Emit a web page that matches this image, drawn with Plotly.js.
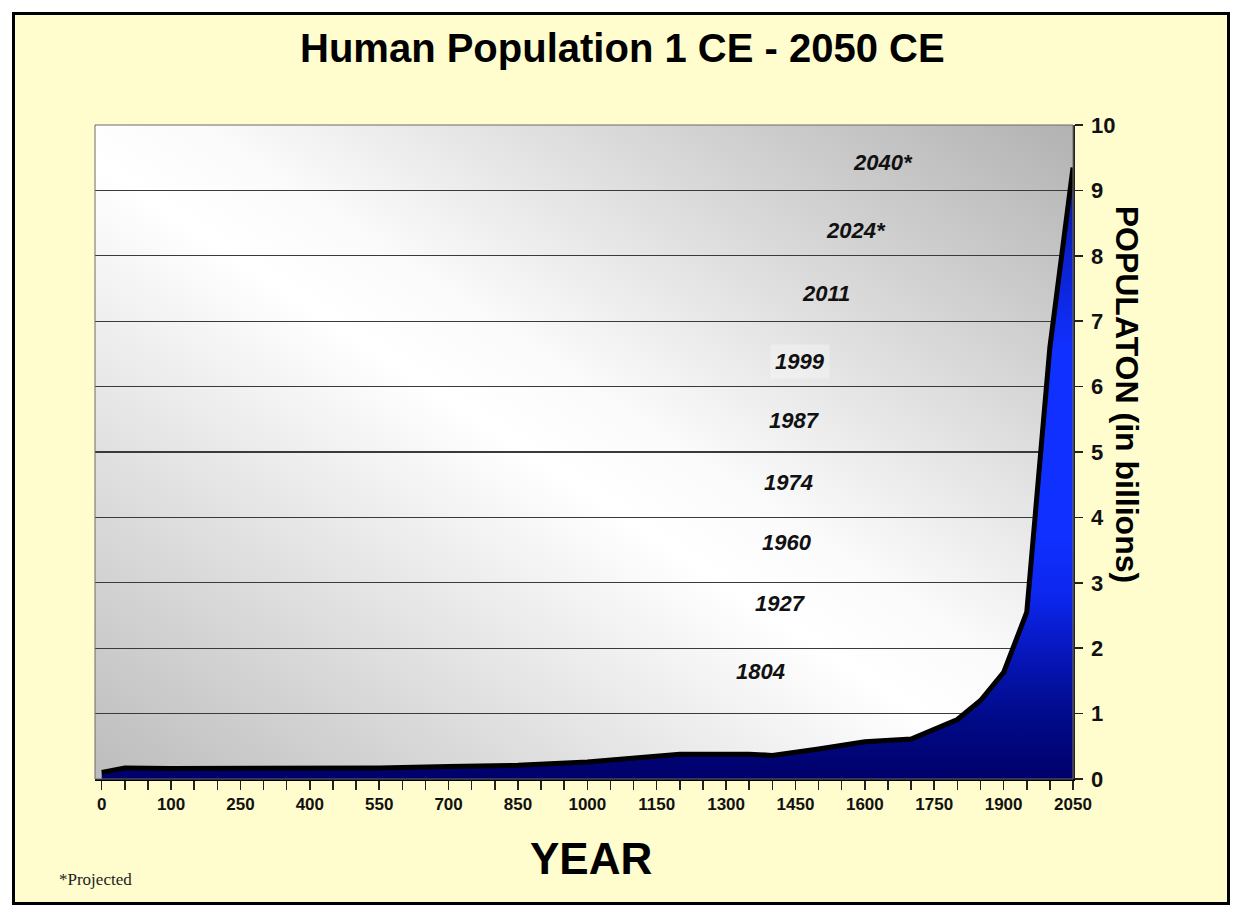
<!DOCTYPE html>
<html>
<head>
<meta charset="utf-8">
<script src="https://cdn.plot.ly/plotly-3.0.1.min.js"></script>
<style>
  html, body { margin: 0; padding: 0; background: #ffffff; }
  #frame { position: absolute; left: 12px; top: 12px; width: 1218px; height: 893px;
           border: 3px solid #000; box-sizing: border-box; background: #FFFCCD; }
  #chart { width: 1212px; height: 887px; }
</style>
</head>
<body>
<div id="frame"><div id="chart"></div></div>
<script>
// ---- axis slots (category positions along the year axis) ----
const slotYears = ['0','1','50','100','150','200','250','300','350','400','450','500','550','600','650',
  '700','750','800','850','900','950','1000','1050','1100','1150','1200','1250','1300','1350','1400',
  '1450','1500','1550','1600','1650','1700','1750','1800','1850','1900','1950','2000','2050'];
const tickLabels = ['0','100','250','400','550','700','850','1000','1150','1300','1450','1600','1750','1900','2050'];

// ---- population series (billions) ----
const years = ['0','1','100','250','400','550','700','850','1000','1100','1200','1350','1400','1500',
  '1600','1700','1800','1850','1900','1950','2000','2050'];
const population = [0.10,0.17,0.16,0.16,0.17,0.17,0.19,0.21,0.26,0.32,0.38,0.38,0.36,0.46,
  0.57,0.61,0.91,1.20,1.63,2.55,6.60,9.35];

// ---- milestone labels (year each billion was / will be reached) ----
const milestoneLabels = ['1804','1927','1960','1974','1987','1999','2011','2024*','2040*'];
const milestoneY = [1.64,2.69,3.61,4.53,5.48,6.38,7.43,8.39,9.42];
const milestoneXPaper = [0.680,0.701,0.708,0.709,0.715,0.721,0.747,0.778,0.806];

const FONT = 'Liberation Sans, Arial, Helvetica, sans-serif';

const bgSvg = '<svg xmlns="http://www.w3.org/2000/svg" width="100" height="100" viewBox="0 0 100 100" preserveAspectRatio="none">' +
  '<defs><linearGradient id="g" x1="0" y1="1" x2="1" y2="0">' +
  '<stop offset="0" stop-color="#bcbcbc"/><stop offset="0.47" stop-color="#ffffff"/>' +
  '<stop offset="0.55" stop-color="#fbfbfb"/><stop offset="1" stop-color="#b2b2b2"/>' +
  '</linearGradient></defs><rect x="0" y="0" width="100" height="100" fill="url(#g)"/></svg>';
const bgUri = 'data:image/svg+xml;charset=utf-8,' + encodeURIComponent(bgSvg);

const trace = {
  type: 'scatter',
  mode: 'lines',
  x: years,
  y: population,
  line: { color: '#000000', width: 5 },
  fill: 'tozeroy',
  fillgradient: {
    type: 'vertical',
    start: 0,
    stop: 9.35,
    colorscale: [
      [0, '#00006a'], [0.1, '#010a88'], [0.2, '#0616b8'], [0.3, '#0c26ee'],
      [0.4, '#1030ff'], [0.7, '#1030ff'], [0.85, '#0b22d0'], [1, '#08169a']
    ]
  },
  hoverinfo: 'x+y'
};

const annotations = [];
for (let i = 0; i < milestoneLabels.length; i++) {
  annotations.push({
    xref: 'paper', yref: 'y', x: milestoneXPaper[i], y: milestoneY[i],
    text: milestoneLabels[i], showarrow: false, xanchor: 'center', yanchor: 'middle',
    font: { family: FONT, size: 22, color: '#111', weight: 'bold', style: 'italic' },
    bgcolor: milestoneLabels[i] === '1999' ? 'rgba(255,255,255,0.3)' : 'rgba(0,0,0,0)', borderpad: 4
  });
}
annotations.push({
  xref: 'paper', yref: 'paper', x: 0.539, y: 1.118, xanchor: 'center', yanchor: 'middle',
  text: 'Human Population 1 CE - 2050 CE', showarrow: false,
  font: { family: FONT, size: 40, color: '#000', weight: 'bold' }
});
annotations.push({
  xref: 'paper', yref: 'paper', x: 0.507, y: -0.122, xanchor: 'center', yanchor: 'middle',
  text: 'YEAR', showarrow: false,
  font: { family: FONT, size: 44, color: '#000', weight: 'bold' }
});
annotations.push({
  xref: 'paper', yref: 'paper', x: 1.055, y: 0.588, xanchor: 'center', yanchor: 'middle',
  text: 'POPULATON (in billions)', showarrow: false, textangle: 90,
  font: { family: FONT, size: 32, color: '#000', weight: 'bold' }
});
annotations.push({
  xref: 'paper', yref: 'paper', x: -0.039, y: -0.154, xanchor: 'left', yanchor: 'middle',
  text: '*Projected', showarrow: false,
  font: { family: 'Liberation Serif, Times New Roman, serif', size: 17, color: '#222' }
});

const layout = {
  width: 1212, height: 887,
  margin: { l: 80, r: 154, t: 110, b: 123 },
  paper_bgcolor: '#FFFCCD',
  plot_bgcolor: 'rgba(0,0,0,0)',
  showlegend: false,
  images: [{ source: bgUri, xref: 'paper', yref: 'paper', x: 0, y: 1, sizex: 1, sizey: 1,
             sizing: 'stretch', xanchor: 'left', yanchor: 'top', layer: 'below' }],
  xaxis: {
    type: 'category',
    categoryorder: 'array', categoryarray: slotYears,
    range: [-0.29, 42],
    tickmode: 'array', tickvals: slotYears,
    ticktext: slotYears.map(s => tickLabels.includes(s) ? s : ' '),
    ticks: 'outside', ticklen: 9, tickwidth: 1.5, tickcolor: '#222',
    showgrid: false, zeroline: false,
    showline: true, linecolor: '#000', linewidth: 2,
    tickfont: { family: FONT, size: 17, color: '#111', weight: 'bold' },
    tickangle: 0
  },
  yaxis: {
    side: 'right',
    range: [0, 10], dtick: 1, tick0: 0,
    ticks: 'outside', ticklen: 8, tickwidth: 1.5, tickcolor: '#222',
    showgrid: true, gridcolor: '#3a3a3a', gridwidth: 1.3,
    zeroline: false,
    showline: true, linecolor: '#222', linewidth: 1.5,
    tickfont: { family: FONT, size: 22, color: '#111', weight: 'bold' },
    ticklabelstandoff: 4
  },
  shapes: [{ type: 'rect', xref: 'paper', yref: 'paper', x0: 0, x1: 1, y0: 0, y1: 1,
             line: { color: '#6a6a6a', width: 1 }, layer: 'above' }],
  annotations: annotations
};

Plotly.newPlot('chart', [trace], layout, { displayModeBar: false, staticPlot: true });
</script>
</body>
</html>
